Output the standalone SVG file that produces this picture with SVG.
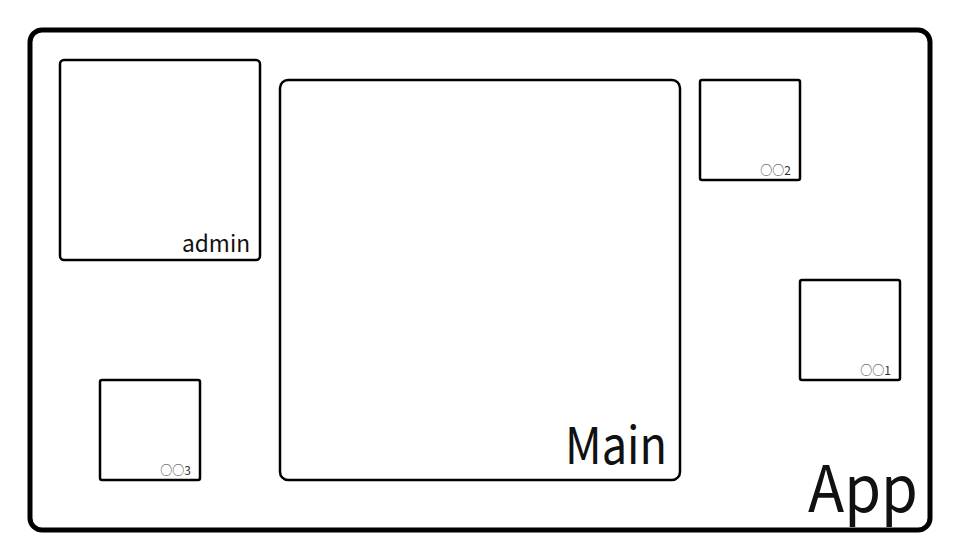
<svg xmlns="http://www.w3.org/2000/svg" width="960" height="560" viewBox="0 0 960 560">
<style>
.box{fill:#fff;stroke:#000;stroke-width:2.5}
.t{font-family:"Noto Sans CJK JP","Noto Sans",sans-serif;fill:#111;text-anchor:end}
.s{fill:#333}
</style>
<rect width="960" height="560" fill="#fff"/>
<g id="app">
<rect x="30" y="30" width="900" height="500" rx="12" fill="#fff" stroke="#000" stroke-width="5"/>
<text class="t" x="918" y="512" font-size="64" textLength="110" lengthAdjust="spacingAndGlyphs">App</text>
</g>
<g id="admin">
<rect class="box" x="60" y="60" width="200" height="200" rx="4"/>
<text class="t" x="250" y="252" font-size="23" textLength="68" lengthAdjust="spacingAndGlyphs">admin</text>
</g>
<g id="main">
<rect class="box" x="280" y="80" width="400" height="400" rx="8"/>
<text class="t" x="667" y="464" font-size="51" textLength="102" lengthAdjust="spacingAndGlyphs">Main</text>
</g>
<g id="n2">
<rect class="box" x="700" y="80" width="100" height="100" rx="2"/>
<text class="t s" x="791" y="175" font-size="12">○○2</text>
</g>
<g id="n1">
<rect class="box" x="800" y="280" width="100" height="100" rx="2"/>
<text class="t s" x="891" y="375" font-size="12">○○1</text>
</g>
<g id="n3">
<rect class="box" x="100" y="380" width="100" height="100" rx="2"/>
<text class="t s" x="191" y="475" font-size="12">○○3</text>
</g>
<g id="connectors"/>
</svg>
